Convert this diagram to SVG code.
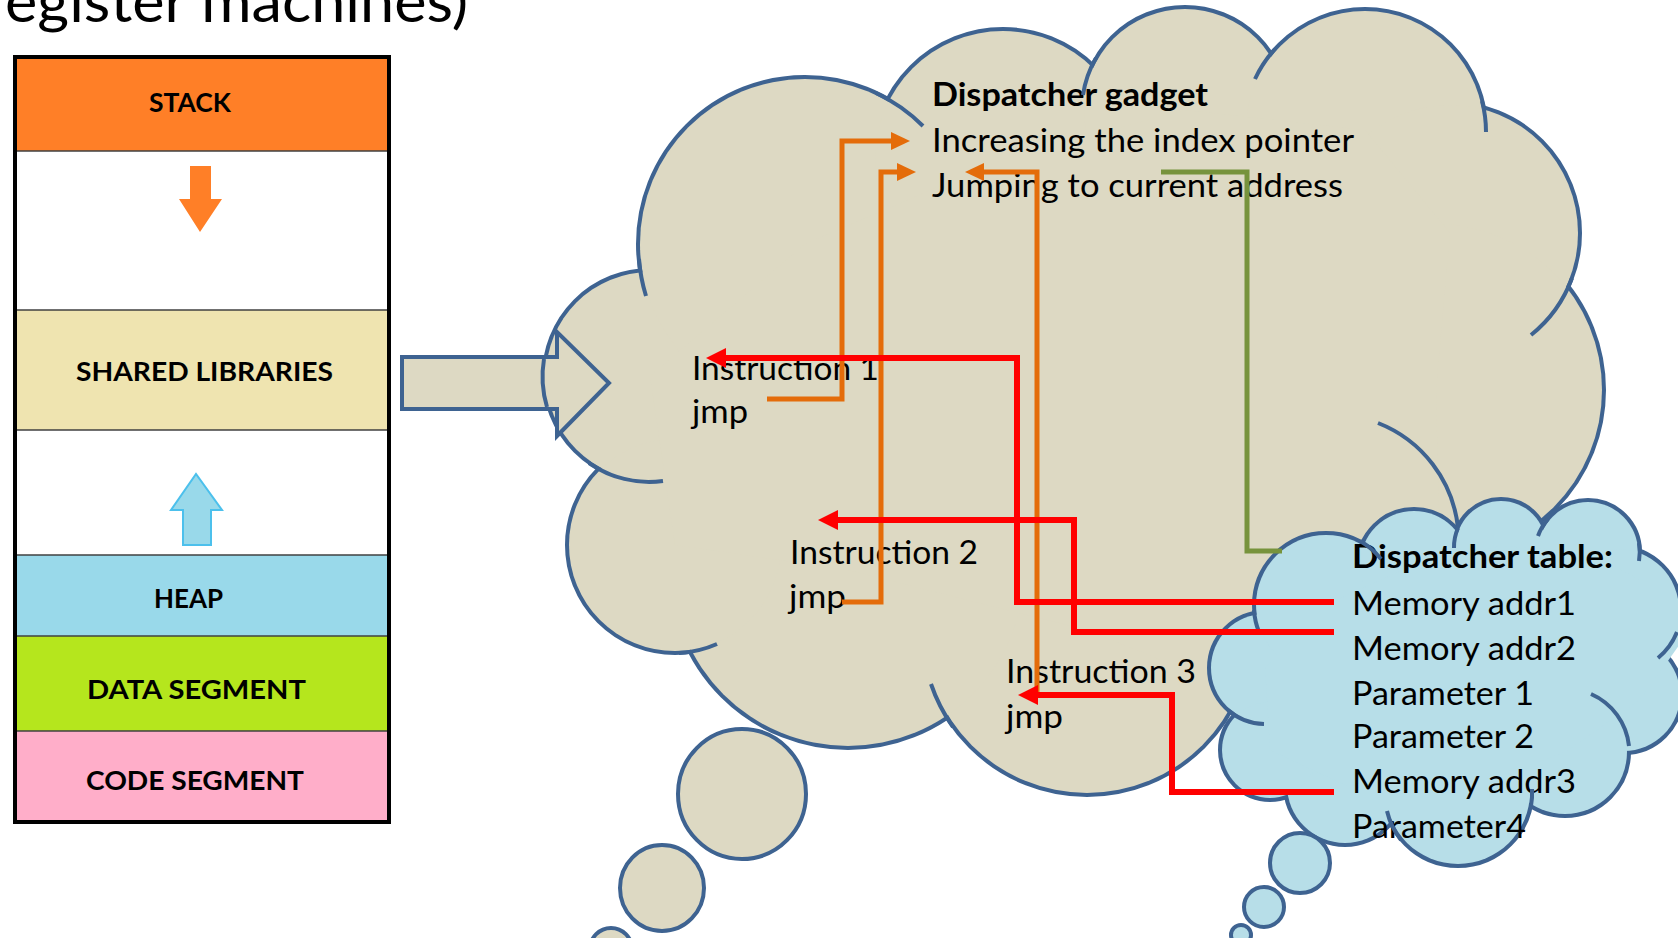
<svg xmlns="http://www.w3.org/2000/svg" width="1678" height="938" viewBox="0 0 1678 938">
<defs>
<style>
.txt{font-family:Lato,"Open Sans","Liberation Sans",sans-serif;fill:#000}
.cl{font-size:33px}
.bd{font-weight:bold}
.mem{font-size:27px;font-weight:bold}
.bs{fill:#DDD9C3;stroke:#3E6391;stroke-width:8}
.bf{fill:#DDD9C3}
.be{fill:#DDD9C3;stroke:#3E6391;stroke-width:4}
.ls{fill:#B7DEE8;stroke:#3E6391;stroke-width:8}
.lf{fill:#B7DEE8}
.le{fill:#B7DEE8;stroke:#3E6391;stroke-width:4}
.hk{fill:none;stroke:#3E6391;stroke-width:4}
.or{fill:none;stroke:#E46C0A;stroke-width:5}
.rd{fill:none;stroke:#FF0000;stroke-width:6}
.gr{fill:none;stroke:#77933C;stroke-width:5}
.sep{stroke:#404040;stroke-width:1.5}
</style>
<marker id="ao" markerUnits="userSpaceOnUse" markerWidth="20" markerHeight="20" refX="1" refY="9" orient="auto"><path d="M0,0 L19,9 L0,18 Z" fill="#E46C0A"/></marker>
<marker id="ar" markerUnits="userSpaceOnUse" markerWidth="22" markerHeight="22" refX="1" refY="10" orient="auto"><path d="M0,0 L20,10 L0,20 Z" fill="#FF0000"/></marker>
</defs>
<rect width="1678" height="938" fill="#FFFFFF"/>

<g id="title">
<text class="txt" x="-16" y="22" font-size="59" textLength="484" lengthAdjust="spacingAndGlyphs">register machines)</text>
</g>

<g id="memory-layout">
<rect x="17" y="57" width="372" height="94" fill="#FF7F27"/>
<rect x="17" y="151" width="372" height="159" fill="#FFFFFF"/>
<rect x="17" y="310" width="372" height="120" fill="#EFE4B0"/>
<rect x="17" y="430" width="372" height="125" fill="#FFFFFF"/>
<rect x="17" y="555" width="372" height="81" fill="#99D9EA"/>
<rect x="17" y="636" width="372" height="95" fill="#B5E61D"/>
<rect x="17" y="731" width="372" height="91" fill="#FFAEC9"/>
<line class="sep" x1="17" y1="151" x2="389" y2="151"/>
<line class="sep" x1="17" y1="310" x2="389" y2="310"/>
<line class="sep" x1="17" y1="430" x2="389" y2="430"/>
<line class="sep" x1="17" y1="555" x2="389" y2="555"/>
<line class="sep" x1="17" y1="636" x2="389" y2="636"/>
<line class="sep" x1="17" y1="731" x2="389" y2="731"/>
<rect x="15" y="57" width="374" height="765" fill="none" stroke="#000" stroke-width="4"/>
<polygon points="190,166 211,166 211,199 222,199 200,232 179,199 190,199" fill="#FF7F27"/>
<polygon points="183,545 211,545 211,510 222,510 196,474 171,510 183,510" fill="#99D9EA" stroke="#4CC0EC" stroke-width="2"/>
<text class="txt mem" x="149" y="112" textLength="82" lengthAdjust="spacingAndGlyphs">STACK</text>
<text class="txt mem" x="76" y="381" textLength="257" lengthAdjust="spacingAndGlyphs">SHARED LIBRARIES</text>
<text class="txt mem" x="154" y="608" textLength="69" lengthAdjust="spacingAndGlyphs">HEAP</text>
<text class="txt mem" x="87" y="699" textLength="219" lengthAdjust="spacingAndGlyphs">DATA SEGMENT</text>
<text class="txt mem" x="86" y="790" textLength="218" lengthAdjust="spacingAndGlyphs">CODE SEGMENT</text>
</g>

<g id="dispatcher-gadget-cloud">
<circle class="bs" cx="650" cy="376" r="104"/>
<circle class="bs" cx="805" cy="244" r="165"/>
<circle class="bs" cx="1003" cy="159" r="128"/>
<circle class="bs" cx="1185" cy="110" r="101"/>
<circle class="bs" cx="1365" cy="130" r="119"/>
<circle class="bs" cx="1450" cy="233" r="128"/>
<circle class="bs" cx="1436" cy="390" r="166"/>
<circle class="bs" cx="1087" cy="630" r="163"/>
<circle class="bs" cx="848" cy="570" r="176"/>
<circle class="bs" cx="675" cy="545" r="106"/>
<circle class="bf" cx="650" cy="376" r="104"/>
<circle class="bf" cx="805" cy="244" r="165"/>
<circle class="bf" cx="1003" cy="159" r="128"/>
<circle class="bf" cx="1185" cy="110" r="101"/>
<circle class="bf" cx="1365" cy="130" r="119"/>
<circle class="bf" cx="1450" cy="233" r="128"/>
<circle class="bf" cx="1436" cy="390" r="166"/>
<circle class="bf" cx="1087" cy="630" r="163"/>
<circle class="bf" cx="848" cy="570" r="176"/>
<circle class="bf" cx="675" cy="545" r="106"/>
<polygon class="bf" points="650,376 805,244 1003,159 1185,110 1365,130 1450,233 1436,390 1440,560 1260,700 1087,630 848,570 675,545"/>
<ellipse class="be" cx="742" cy="794" rx="64" ry="65"/>
<ellipse class="be" cx="662" cy="888" rx="42" ry="43"/>
<circle class="be" cx="611" cy="949" r="21"/>
</g>

<g id="shared-libraries-arrow">
<polygon points="402,357 557,357 557,332 609,383 557,436 557,409 402,409" fill="#DDD9C3" stroke="#3E6391" stroke-width="4"/>
</g>

<g id="dispatcher-gadget-text">
<path class="hk" d="M544,359 A106,106 0 0 0 547,407"/>
<text class="txt cl bd" x="932" y="106" textLength="276" lengthAdjust="spacingAndGlyphs">Dispatcher gadget</text>
<text class="txt cl" x="932" y="152" textLength="422" lengthAdjust="spacingAndGlyphs">Increasing the index pointer</text>
<text class="txt cl" x="932" y="197" textLength="411" lengthAdjust="spacingAndGlyphs">Jumping to current address</text>
<text class="txt cl" x="692" y="380" textLength="187" lengthAdjust="spacingAndGlyphs">Instruction 1</text>
<text class="txt cl" x="692" y="423" textLength="56" lengthAdjust="spacingAndGlyphs">jmp</text>
<text class="txt cl" x="790" y="564" textLength="188" lengthAdjust="spacingAndGlyphs">Instruction 2</text>
<text class="txt cl" x="789" y="608" textLength="57" lengthAdjust="spacingAndGlyphs">jmp</text>
<text class="txt cl" x="1006" y="683" textLength="190" lengthAdjust="spacingAndGlyphs">Instruction 3</text>
<text class="txt cl" x="1006" y="728" textLength="57" lengthAdjust="spacingAndGlyphs">jmp</text>
<path class="hk" d="M589,463 A106,106 0 0 0 663,481"/>
<path class="hk" d="M639,259 A167,167 0 0 0 646,296"/>
<path class="hk" d="M876,93 A167,167 0 0 1 923,126"/>
<path class="hk" d="M1083,95 A103,103 0 0 1 1096,58"/>
<path class="hk" d="M1255,79 A121,121 0 0 1 1275,49"/>
<path class="hk" d="M1482,101 A121,121 0 0 1 1486,132"/>
<path class="hk" d="M1572,278 A130,130 0 0 1 1531,335"/>
<path class="hk" d="M1378,423 A127,127 0 0 1 1458,528"/>
<path class="hk" d="M679,653 A108,108 0 0 0 717,644"/>
<path class="hk" d="M953,727 A165,165 0 0 1 931,684"/>
</g>

<g id="dispatcher-table-cloud">
<circle class="ls" cx="1265" cy="668" r="54"/>
<circle class="ls" cx="1326" cy="605" r="70"/>
<circle class="ls" cx="1414" cy="565" r="54"/>
<circle class="ls" cx="1501" cy="546" r="45"/>
<circle class="ls" cx="1588" cy="552" r="50"/>
<circle class="ls" cx="1618" cy="610" r="61"/>
<circle class="ls" cx="1624" cy="695" r="56"/>
<circle class="ls" cx="1565" cy="752" r="62"/>
<circle class="ls" cx="1458" cy="792" r="72"/>
<circle class="ls" cx="1345" cy="785" r="58"/>
<circle class="ls" cx="1270" cy="750" r="48"/>
<circle class="lf" cx="1265" cy="668" r="54"/>
<circle class="lf" cx="1326" cy="605" r="70"/>
<circle class="lf" cx="1414" cy="565" r="54"/>
<circle class="lf" cx="1501" cy="546" r="45"/>
<circle class="lf" cx="1588" cy="552" r="50"/>
<circle class="lf" cx="1618" cy="610" r="61"/>
<circle class="lf" cx="1624" cy="695" r="56"/>
<circle class="lf" cx="1565" cy="752" r="62"/>
<circle class="lf" cx="1458" cy="792" r="72"/>
<circle class="lf" cx="1345" cy="785" r="58"/>
<circle class="lf" cx="1270" cy="750" r="48"/>
<polygon class="lf" points="1326,605 1414,565 1501,546 1588,552 1640,580 1690,630 1640,700 1565,752 1458,792 1345,785 1270,750 1265,668"/>
<circle class="le" cx="1300" cy="863" r="30"/>
<circle class="le" cx="1264" cy="907" r="20"/>
<circle class="le" cx="1241" cy="935" r="10"/>
<text class="txt cl bd" x="1352" y="568" textLength="261" lengthAdjust="spacingAndGlyphs">Dispatcher table:</text>
<text class="txt cl" x="1352" y="615" textLength="224" lengthAdjust="spacingAndGlyphs">Memory addr1</text>
<text class="txt cl" x="1352" y="660" textLength="224" lengthAdjust="spacingAndGlyphs">Memory addr2</text>
<text class="txt cl" x="1352" y="705" textLength="182" lengthAdjust="spacingAndGlyphs">Parameter 1</text>
<text class="txt cl" x="1352" y="748" textLength="182" lengthAdjust="spacingAndGlyphs">Parameter 2</text>
<text class="txt cl" x="1352" y="793" textLength="224" lengthAdjust="spacingAndGlyphs">Memory addr3</text>
<text class="txt cl" x="1352" y="838" textLength="174" lengthAdjust="spacingAndGlyphs">Parameter4</text>
<path class="hk" d="M1228,710 A56,56 0 0 0 1264,724"/>
<path class="hk" d="M1360,541 A72,72 0 0 1 1381,559"/>
<path class="hk" d="M1254,610 A72,72 0 0 0 1259,632"/>
<path class="hk" d="M1458,528 A47,47 0 0 0 1454,548"/>
<path class="hk" d="M1538,536 A52,52 0 0 1 1548,519"/>
<path class="hk" d="M1639,543 A52,52 0 0 1 1639,561"/>
<path class="hk" d="M1677,632 A63,63 0 0 1 1658,658"/>
<path class="hk" d="M1591,694 A64,64 0 0 1 1629,746"/>
<path class="hk" d="M1531,806 A74,74 0 0 0 1532,789"/>
<path class="hk" d="M1401,840 A74,74 0 0 1 1387,811"/>
</g>

<g id="connectors">
<path class="or" d="M767,399 H842 V141 H892" marker-end="url(#ao)"/>
<path class="or" d="M842,602 H881 V172 H898" marker-end="url(#ao)"/>
<path class="or" d="M1037,692 V172 H983" marker-end="url(#ao)"/>
<path class="gr" d="M1161,172 H1247 V551 H1282"/>
<path class="rd" d="M1334,602 H1017 V358 H725" marker-end="url(#ar)"/>
<path class="rd" d="M1334,632 H1074 V520 H837" marker-end="url(#ar)"/>
<path class="rd" d="M1334,792 H1172 V695 H1037" marker-end="url(#ar)"/>
</g>
</svg>
